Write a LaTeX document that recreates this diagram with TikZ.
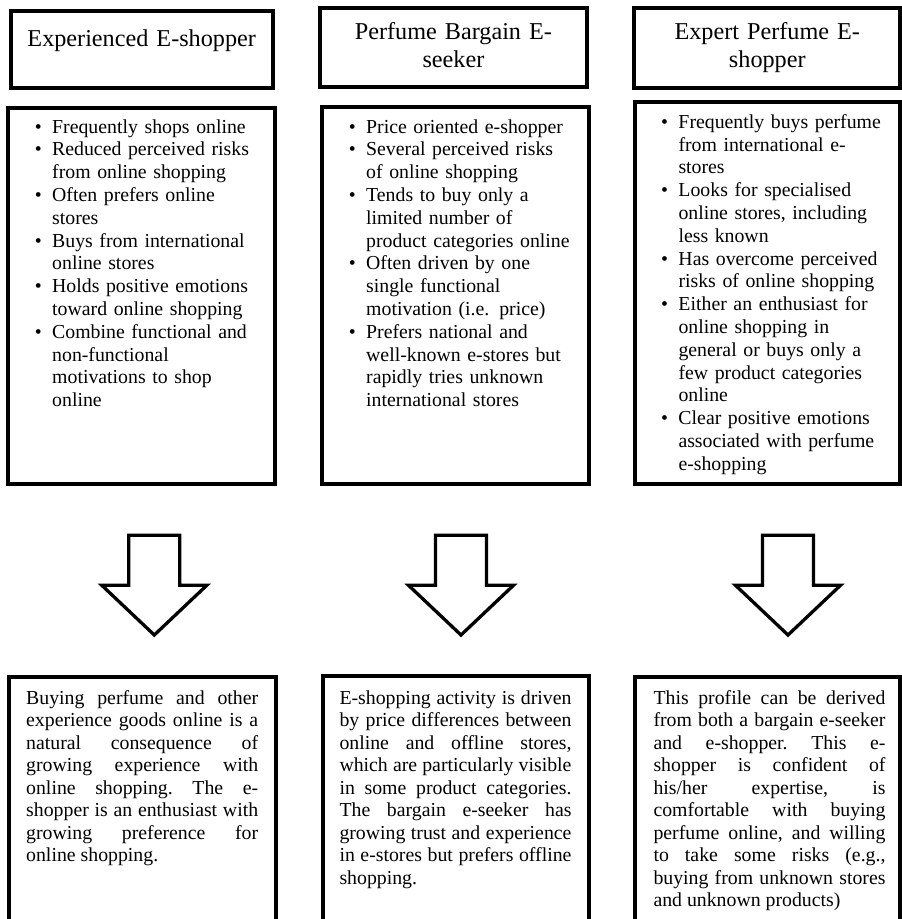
\documentclass[tikz,border=0pt]{standalone}
\IfFileExists{uplr8t.tfm}{%
  \usepackage[T1]{fontenc}
  \usepackage{palatino}}{%
  \usepackage{fontspec}
  \setmainfont{Liberation Serif}[Scale=1.1]}
\usepackage{tikz}

\newcommand{\bitem}[1]{\leavevmode\llap{\textbullet\hspace{10.5pt}}#1\par}
\newcommand{\resultfont}{\fontsize{18}{22.5}\selectfont\frenchspacing
  \spaceskip=0.25em plus 1em minus 0.12em\hyphenpenalty=10000}

\tikzset{
  box/.style={draw=black, line width=4pt},
  blockarrow/.style={draw=black, line width=3.3pt, fill=white, line join=miter},
  headtext/.style={anchor=base, inner sep=0pt, text width=250pt, align=center,
    font=\fontsize{22}{28.4}\selectfont},
  listtext/.style={anchor=base west, inner sep=0pt, text width=220pt, align=left,
    font=\fontsize{18}{22.8}\selectfont},
  resulttext/.style={anchor=base west, inner sep=0pt, text width=232pt, align=justify,
    font=\resultfont}
}

\begin{document}
\begin{tikzpicture}[x=1pt, y=-1pt]
  \clip (0,0) rectangle (902,919);

  % headings
  \draw [box] (10.5,11) rectangle (273,87.5);
  \draw [box] (319.7,8) rectangle (587,87);
  \draw [box] (634,8) rectangle (900,88);
  \node [headtext] (head1) at (141.7,46.7) {Experienced E-shopper};
  \node [headtext] (head2) at (453.4,39.5) {Perfume Bargain E-\\seeker};
  \node [headtext] (head3) at (767.3,39.5) {Expert Perfume E-\\shopper};

  % profiles
  \draw [box] (8,108) rectangle (274.7,484);
  \draw [box] (322,107) rectangle (589,484);
  \draw [box] (635,102) rectangle (900,484);
  \node [listtext] (list1) at (52,133) {%
    \bitem{Frequently shops online}
    \bitem{Reduced perceived risks\\from online shopping}
    \bitem{Often prefers online\\stores}
    \bitem{Buys from international\\online stores}
    \bitem{Holds positive emotions\\toward online shopping}
    \bitem{Combine functional and\\non-functional\\motivations to shop\\online}};
  \node [listtext] (list2) at (366,133) {%
    \bitem{Price oriented e-shopper}
    \bitem{Several perceived risks\\of online shopping}
    \bitem{Tends to buy only a\\limited number of\\product categories online}
    \bitem{Often driven by one\\single functional\\motivation (i.e. price)}
    \bitem{Prefers national and\\well-known e-stores but\\rapidly tries unknown\\international stores}};
  \node [listtext] (list3) at (678.3,128.3) {%
    \bitem{Frequently buys perfume\\from international e-\\stores}
    \bitem{Looks for specialised\\online stores, including\\less known}
    \bitem{Has overcome perceived\\risks of online shopping}
    \bitem{Either an enthusiast for\\online shopping in\\general or buys only a\\few product categories\\online}
    \bitem{Clear positive emotions\\associated with perfume\\e-shopping}};

  % arrows
  \foreach \ax in {154.3, 461, 788} {
    \draw [blockarrow] (\ax-25.5,535.3) -- (\ax-25.5,585.3) -- (\ax-52.5,585.3)
      -- (\ax,635) -- (\ax+52.5,585.3) -- (\ax+25.5,585.3) -- (\ax+25.5,535.3) -- cycle;
  }

  % outcomes
  \draw [box] (9,677) rectangle (276,930);
  \draw [box] (323,676) rectangle (588.5,930);
  \draw [box] (634.5,677) rectangle (899.5,930);
  \node [resulttext] (res1) at (26,704) {Buying perfume and other\linebreak
    experience goods online is a\linebreak natural consequence of\linebreak
    growing experience with\linebreak online shopping. The e-\linebreak
    shopper is an enthusiast with\linebreak growing preference for\linebreak
    online shopping.};
  \node [resulttext] (res2) at (339.3,704) {E-shopping activity is driven\linebreak
    by price differences between\linebreak online and offline stores,\linebreak
    which are particularly visible\linebreak in some product categories.\linebreak
    The bargain e-seeker has\linebreak growing trust and experience\linebreak
    in e-stores but prefers offline\linebreak shopping.};
  \node [resulttext] (res3) at (653.3,704) {This profile can be derived\linebreak
    from both a bargain e-seeker\linebreak and e-shopper. This e-\linebreak
    shopper is confident of\linebreak his/her expertise, is\linebreak
    comfortable with buying\linebreak perfume online, and willing\linebreak
    to take some risks (e.g.,\linebreak buying from unknown stores\linebreak
    and unknown products)};
\end{tikzpicture}
\end{document}
